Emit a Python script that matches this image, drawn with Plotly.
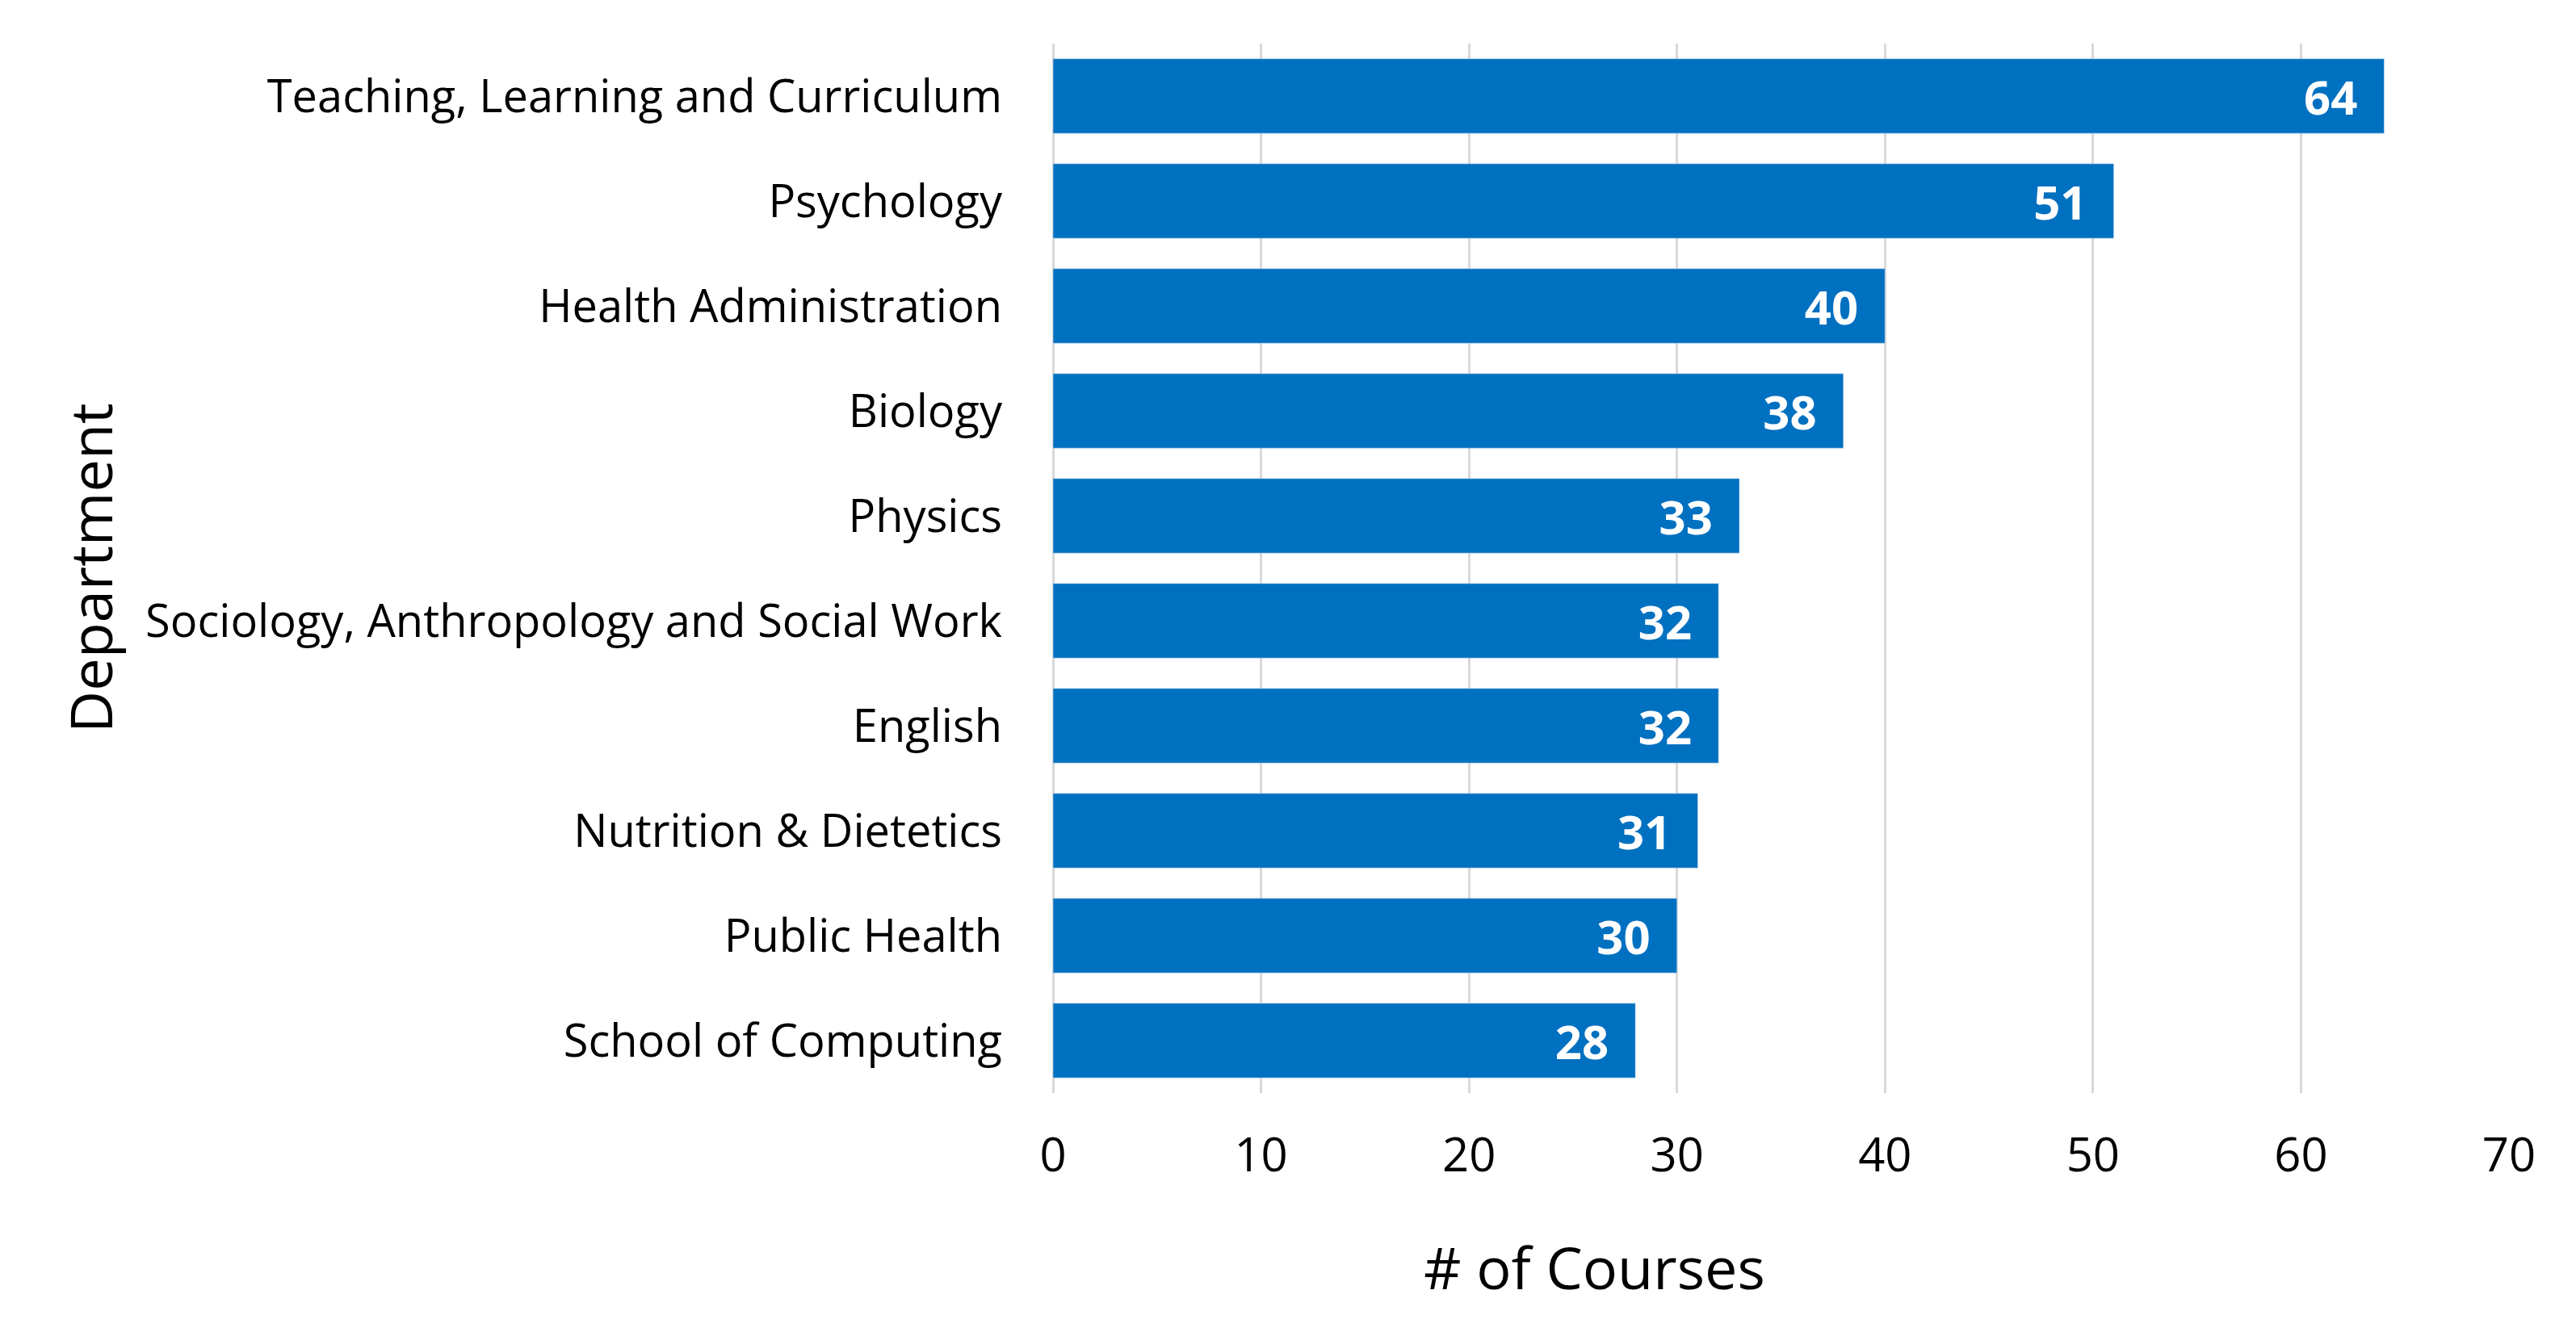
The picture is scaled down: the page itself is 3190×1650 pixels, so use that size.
import plotly.graph_objects as go

# departments listed top to bottom as in the chart
departments = [
    'Teaching, Learning and Curriculum',
    'Psychology',
    'Health Administration',
    'Biology',
    'Physics',
    'Sociology, Anthropology and Social Work',
    'English',
    'Nutrition & Dietetics',
    'Public Health',
    'School of Computing',
]
courses = [64, 51, 40, 38, 33, 32, 32, 31, 30, 28]
xticks = [0, 10, 20, 30, 40, 50, 60, 70]

fontname = 'Open Sans, sans-serif'

left, right, top, bottom = 1296, 91, 46, 304
plot_w = 3190 - left - right
plot_h = 1650 - top - bottom

fig = go.Figure()

fig.add_trace(go.Bar(
    x=courses,
    y=departments,
    orientation='h',
    marker_color='#0070C0',
    texttemplate='%{x}\u00a0\u00a0',
    textposition='inside',
    insidetextanchor='end',
    textfont=dict(color='white', size=58, family=fontname, weight='bold'),
    cliponaxis=False,
))

fig.update_layout(
    width=3190,
    height=1650,
    margin=dict(l=left, r=right, t=top, b=bottom),
    plot_bgcolor='white',
    paper_bgcolor='white',
    showlegend=False,
    bargap=0.29,
    font=dict(family=fontname, color='black', size=58),
)

fig.update_xaxes(
    range=[0, 70],
    tickvals=xticks,
    showgrid=True,
    gridcolor='#D9D9D9',
    gridwidth=3,
    zeroline=True,
    zerolinecolor='#D9D9D9',
    zerolinewidth=3,
    showline=False,
    ticklabelstandoff=38,
    tickfont=dict(size=58),
)

fig.update_yaxes(
    autorange='reversed',
    showgrid=False,
    showline=False,
    ticklabelstandoff=62,
    tickfont=dict(size=56),
)

# axis titles placed as in the reference
fig.add_annotation(
    text='# of Courses',
    xref='paper', yref='paper',
    x=(1966 - left) / plot_w, y=-(1561 - (1650 - bottom)) / plot_h,
    xanchor='center', yanchor='middle',
    showarrow=False,
    font=dict(size=72),
)
fig.add_annotation(
    text='Department',
    xref='paper', yref='paper',
    x=(103 - left) / plot_w, y=0.5,
    xanchor='center', yanchor='middle',
    textangle=-90,
    showarrow=False,
    font=dict(size=72),
)

fig.write_html("out.html")
